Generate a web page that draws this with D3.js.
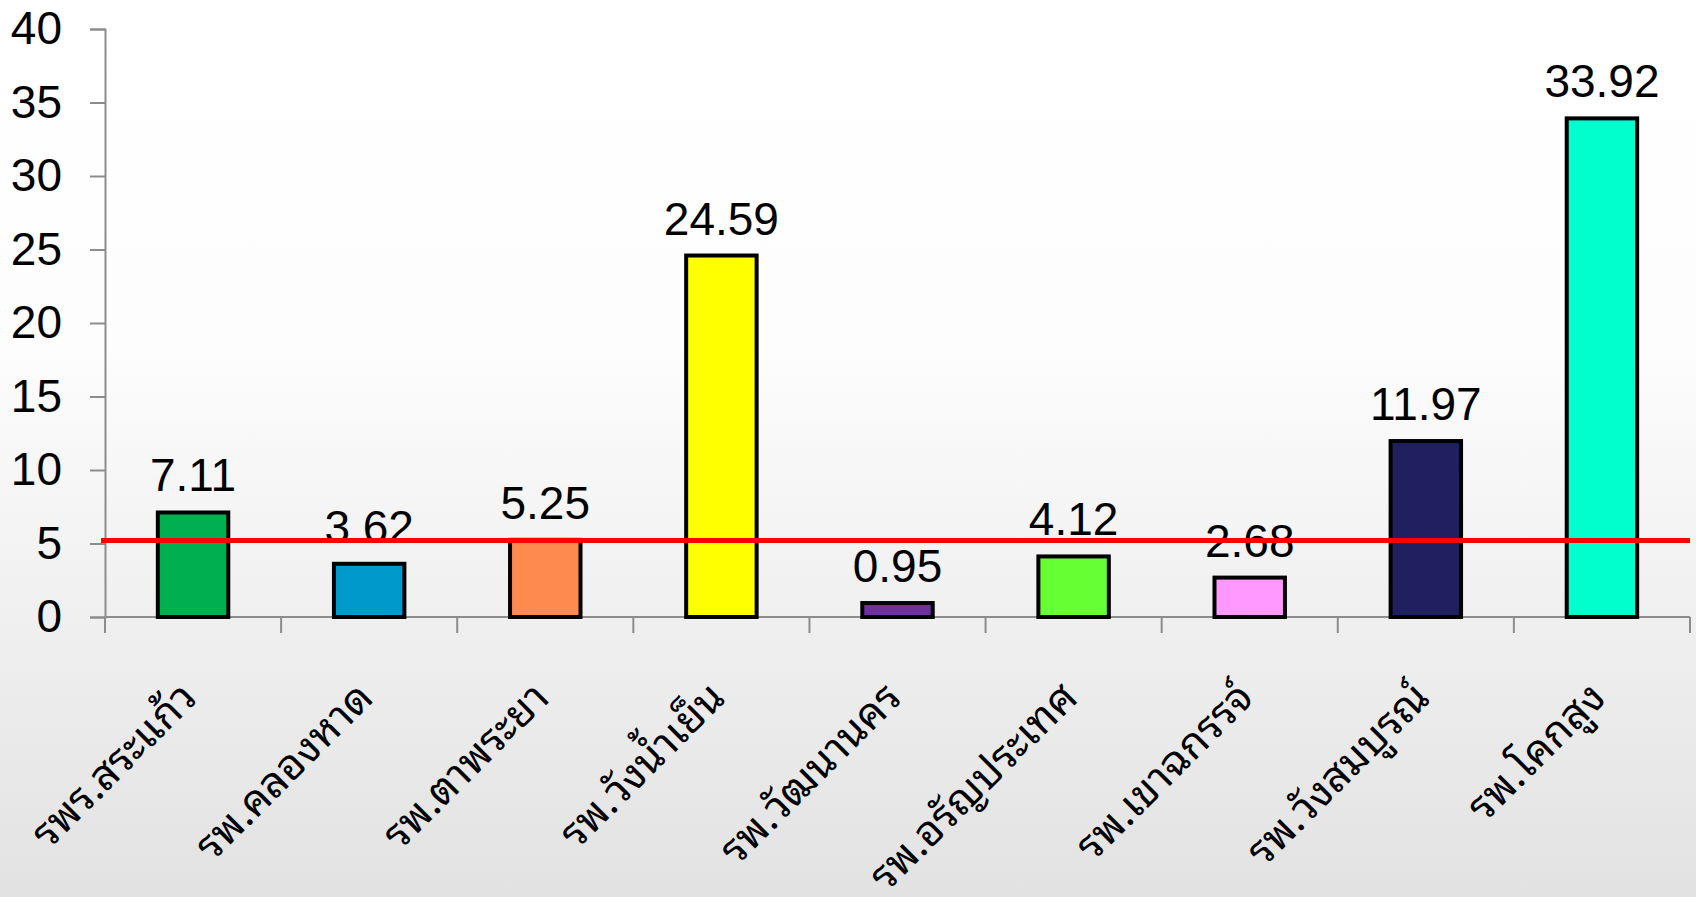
<!DOCTYPE html>
<html>
<head>
<meta charset="utf-8">
<script src="https://cdn.jsdelivr.net/npm/d3@7"></script>
<style>
  html, body { margin: 0; padding: 0; overflow: hidden; }
  svg { display: block; }
</style>
</head>
<body>
<svg id="chart"></svg>
<script>
// data
var hospitals = ["รพร.สระแก้ว", "รพ.คลองหาด", "รพ.ตาพระยา", "รพ.วังน้ำเย็น", "รพ.วัฒนานคร",
                 "รพ.อรัญประเทศ", "รพ.เขาฉกรรจ์", "รพ.วังสมบูรณ์", "รพ.โคกสูง"];
var rates = [7.11, 3.62, 5.25, 24.59, 0.95, 4.12, 2.68, 11.97, 33.92];
var barColors = ["#00b050", "#0099cc", "#ff8a50", "#ffff00", "#7030a0",
                 "#66ff33", "#ff99ff", "#20205f", "#00ffcc"];
var yTicks = [0, 5, 10, 15, 20, 25, 30, 35, 40];
var target = 5.2;

function draw(){
    var width = 1696,
        height = 897;
    var left = 105, right = 1690, top = 29, bottom = 617;

    var svg = d3.select("svg#chart")
      .attr("width", width)
      .attr("height", height);

    // background gradient
    var grad = svg.append("defs").append("linearGradient")
      .attr("id", "bg")
      .attr("x1", 0).attr("y1", 0).attr("x2", 0).attr("y2", 1);
    grad.append("stop").attr("offset", "0%").attr("stop-color", "#ffffff");
    grad.append("stop").attr("offset", "38%").attr("stop-color", "#fdfdfd");
    grad.append("stop").attr("offset", "70%").attr("stop-color", "#efefef");
    grad.append("stop").attr("offset", "100%").attr("stop-color", "#e2e2e2");

    svg.append("rect")
      .attr("width", width)
      .attr("height", height)
      .attr("fill", "url(#bg)");

    var x = d3.scaleBand()
      .domain(hospitals)
      .range([left, right])
      .paddingInner(0.6)
      .paddingOuter(0.3);

    var y = d3.scaleLinear()
      .domain([0, 40])
      .range([bottom, top]);

    // y axis
    var yAxis = svg.append("g")
      .attr("transform", "translate(" + left + ",0)")
      .call(d3.axisLeft(y).tickValues(yTicks).tickSize(15).tickPadding(28));
    yAxis.select(".domain").attr("stroke", "#8c8c8c").attr("stroke-width", 2);
    yAxis.selectAll(".tick line").attr("stroke", "#8c8c8c").attr("stroke-width", 2);
    yAxis.selectAll(".tick text")
      .attr("fill", "#000")
      .style("font", "46px 'Liberation Sans', Arial, sans-serif");

    // x axis with ticks between categories
    var xb = svg.append("g");
    xb.append("line")
      .attr("x1", left).attr("x2", right)
      .attr("y1", bottom).attr("y2", bottom)
      .attr("stroke", "#8c8c8c").attr("stroke-width", 2);
    xb.selectAll("line.sep")
      .data(d3.range(hospitals.length + 1))
      .enter().append("line")
        .attr("class", "sep")
        .attr("x1", function(i){ return left + i * (right - left) / hospitals.length; })
        .attr("x2", function(i){ return left + i * (right - left) / hospitals.length; })
        .attr("y1", bottom).attr("y2", bottom + 16)
        .attr("stroke", "#8c8c8c").attr("stroke-width", 2);

    // bars
    svg.append("g").selectAll("rect")
      .data(rates)
      .enter().append("rect")
        .attr("x", function(d, i){ return x(hospitals[i]); })
        .attr("y", function(d){ return y(d); })
        .attr("width", x.bandwidth())
        .attr("height", function(d){ return y(0) - y(d); })
        .attr("fill", function(d, i){ return barColors[i]; })
        .attr("stroke", "#000")
        .attr("stroke-width", 4);

    // value labels
    svg.append("g").selectAll("text")
      .data(rates)
      .enter().append("text")
        .attr("x", function(d, i){ return x(hospitals[i]) + x.bandwidth() / 2; })
        .attr("y", function(d){ return y(d) - 21; })
        .attr("text-anchor", "middle")
        .style("font", "46px 'Liberation Sans', Arial, sans-serif")
        .text(function(d){ return d.toFixed(2); });

    // target line
    svg.append("line")
      .attr("x1", left - 4).attr("x2", right)
      .attr("y1", y(target)).attr("y2", y(target))
      .attr("stroke", "#ff0000")
      .attr("stroke-width", 5);

    // category labels
    svg.append("g").selectAll("text")
      .data(hospitals)
      .enter().append("text")
        .attr("transform", function(d){
            return "translate(" + (x(d) + x.bandwidth() / 2 + 6) + "," + (bottom + 83) + ") rotate(-45)";
        })
        .attr("text-anchor", "end")
        .style("font", "42px 'Noto Sans Thai Looped', Loma, Garuda, 'Liberation Sans', Arial, sans-serif")
        .text(function(d){ return d; });
}

draw();
</script>
</body>
</html>
